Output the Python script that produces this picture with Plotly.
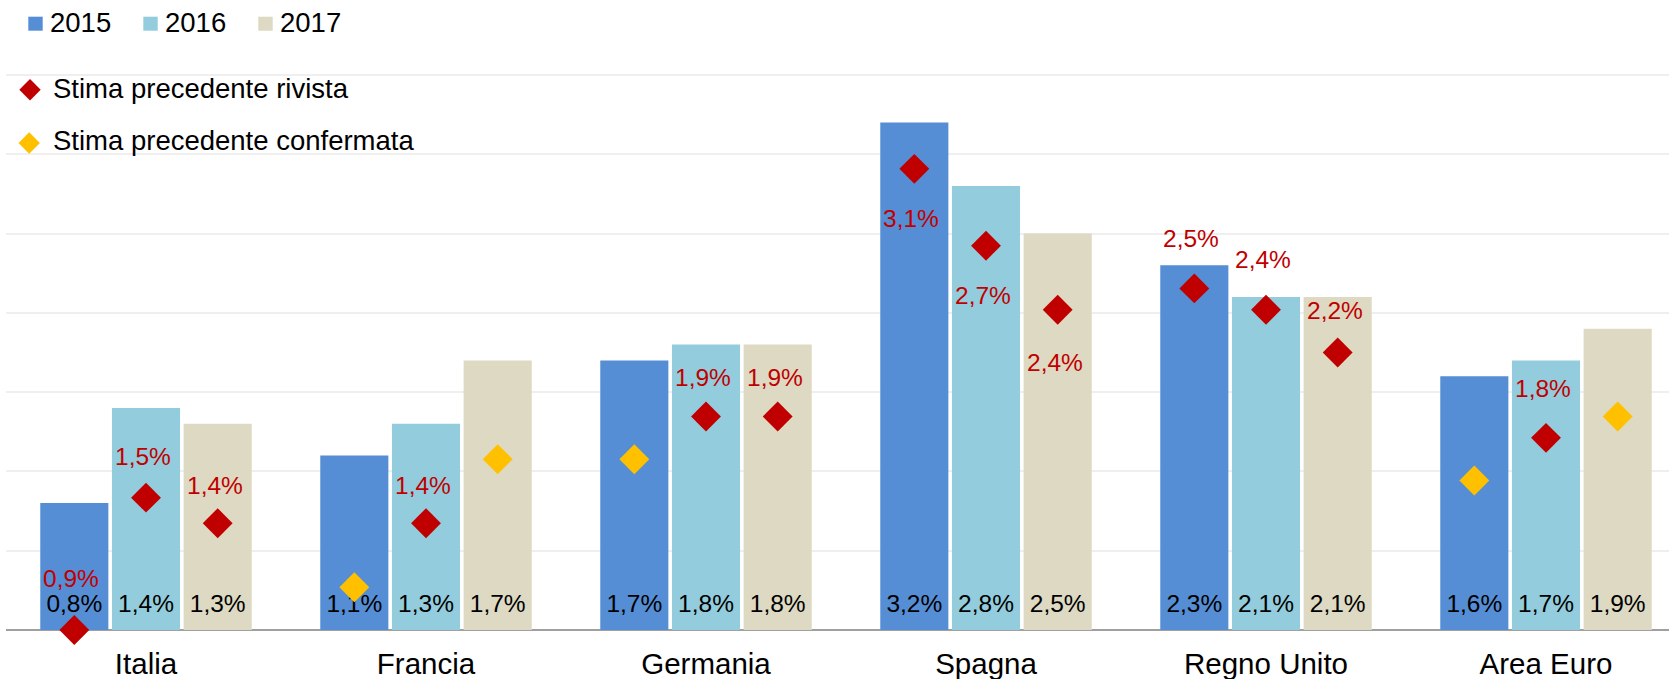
import plotly.graph_objects as go

# ---------------- data ----------------
categories = ["Italia", "Francia", "Germania", "Spagna", "Regno Unito", "Area Euro"]
years = ["2015", "2016", "2017"]

growth_2015 = [0.8, 1.1, 1.7, 3.2, 2.3, 1.6]
growth_2016 = [1.4, 1.3, 1.8, 2.8, 2.1, 1.7]
growth_2017 = [1.3, 1.7, 1.8, 2.5, 2.1, 1.9]

# previous estimates (diamonds, secondary axis)
prev_2015 = [0.9, 1.1, 1.7, 3.06, 2.5, 1.6]
prev_2016 = [1.52, 1.4, 1.9, 2.7, 2.4, 1.8]
prev_2017 = [1.4, 1.7, 1.9, 2.4, 2.2, 1.9]

# True = previous estimate confirmed (yellow), False = revised (red)
confirmed_2015 = [False, True, True, False, False, True]
confirmed_2016 = [False, False, False, False, False, False]
confirmed_2017 = [False, True, False, False, False, True]

legend_labels = ["Stima precedente rivista", "Stima precedente confermata"]

# ---------------- style / layout ----------------
W, H = 1669, 679
ML, MR, MT, MB = 6, 0, 0, 49
PLOT_W = W - ML - MR
PLOT_H = H - MT - MB
PX_PER_CAT = 280.0
PX_PER_UNIT = 158.6
Y1_MAX = PLOT_H / PX_PER_UNIT
Y2_MIN = 0.9
Y2_MAX = Y2_MIN + Y1_MAX * (2.6 / 3.5)
X_MIN = -0.5
X_MAX = X_MIN + PLOT_W / PX_PER_CAT

BARGAP = 0.232
BARGROUPGAP = 0.05
SLOT = (1 - BARGAP) / 3
OFFSETS = [-SLOT, 0.0, SLOT]

FONT = "Liberation Sans, Arial, sans-serif"
BAR_COLORS = ["#558ED5", "#93CDDD", "#DDD9C3"]
RED = "#C00000"
YELLOW = "#FFC000"
LABEL_Y = 0.151  # row of black value labels (primary axis units)
VAL_FONT = 24.5
LEG_FONT = 27.5
CAT_FONT = 29.5

# vertical offsets (px) of red labels from their diamond, per year
RED_SHIFT = [
    [52, 0, 0, -50, 50, 0],
    [41, 38, 39, -50, 50, 49],
    [38, 0, 39, -53, 42, 0],
]

growth = [growth_2015, growth_2016, growth_2017]
prev = [prev_2015, prev_2016, prev_2017]
confirmed = [confirmed_2015, confirmed_2016, confirmed_2017]


def fmt(v):
    return f"{v:.1f}".replace(".", ",") + "%"


fig = go.Figure()
xs = list(range(len(categories)))

# bars
for k, yr in enumerate(years):
    fig.add_trace(go.Bar(
        x=xs, y=growth[k], name=yr,
        marker=dict(color=BAR_COLORS[k], line=dict(width=0)),
        showlegend=False, hoverinfo="skip",
    ))

# black value labels at bottom of bars
lab_x, lab_t = [], []
for k in range(3):
    for i in xs:
        lab_x.append(i + OFFSETS[k])
        lab_t.append(fmt(growth[k][i]))
fig.add_trace(go.Scatter(
    x=lab_x, y=[LABEL_Y] * len(lab_x), mode="text", text=lab_t,
    textposition="middle center",
    textfont=dict(family=FONT, size=VAL_FONT, color="#000000"),
    showlegend=False, hoverinfo="skip", cliponaxis=False,
))

# diamonds on secondary axis
dx, dy, dc = [], [], []
annotations = []
for k in range(3):
    for i in xs:
        x = i + OFFSETS[k]
        dx.append(x)
        dy.append(prev[k][i])
        dc.append(YELLOW if confirmed[k][i] else RED)
        if not confirmed[k][i]:
            annotations.append(dict(
                x=x, y=prev[k][i], xref="x", yref="y2",
                text=fmt(prev[k][i]), showarrow=False,
                xshift=-3, yshift=RED_SHIFT[k][i],
                font=dict(family=FONT, size=VAL_FONT, color=RED),
                xanchor="center", yanchor="middle",
            ))
fig.add_trace(go.Scatter(
    x=dx, y=dy, yaxis="y2", mode="markers",
    marker=dict(symbol="diamond", size=23, color=dc, line=dict(width=0)),
    showlegend=False, hoverinfo="skip", cliponaxis=False,
))


# ---------------- custom legend ----------------
def px_x(p):
    return (p - ML) / PLOT_W


def px_y(p):
    return (H - MB - p) / PLOT_H


shapes = []
sq_left = [28.3, 143.3, 258.3]
txt_left = [48.0, 163.0, 278.0]
for k, yr in enumerate(years):
    shapes.append(dict(
        type="rect", xref="paper", yref="paper",
        x0=px_x(sq_left[k]), x1=px_x(sq_left[k] + 14.4),
        y0=px_y(30.7), y1=px_y(16.7),
        fillcolor=BAR_COLORS[k], line=dict(width=0),
    ))
    annotations.append(dict(
        x=px_x(txt_left[k]), y=px_y(22.5), xref="paper", yref="paper",
        text=yr, showarrow=False, xanchor="left", yanchor="middle",
        font=dict(family=FONT, size=LEG_FONT, color="#000000"),
    ))

diam_centers = [(30.0, 89.7), (29.2, 143.0)]
diam_colors = [RED, YELLOW]
diam_text_y = [88.5, 140.5]
for j in range(2):
    cx, cy = diam_centers[j]
    hw = 10.7
    path = (f"M {px_x(cx - hw)},{px_y(cy)} L {px_x(cx)},{px_y(cy - hw)} "
            f"L {px_x(cx + hw)},{px_y(cy)} L {px_x(cx)},{px_y(cy + hw)} Z")
    shapes.append(dict(type="path", xref="paper", yref="paper", path=path,
                       fillcolor=diam_colors[j], line=dict(width=0)))
    annotations.append(dict(
        x=px_x(50.5), y=px_y(diam_text_y[j]), xref="paper", yref="paper",
        text=legend_labels[j], showarrow=False, xanchor="left", yanchor="middle",
        font=dict(family=FONT, size=LEG_FONT, color="#000000"),
    ))

fig.update_layout(
    width=W, height=H,
    margin=dict(l=ML, r=MR, t=MT, b=MB, pad=0),
    paper_bgcolor="#FFFFFF", plot_bgcolor="#FFFFFF",
    barmode="group", bargap=BARGAP, bargroupgap=BARGROUPGAP,
    font=dict(family=FONT, color="#000000"),
    showlegend=False,
    xaxis=dict(
        range=[X_MIN, X_MAX], tickmode="array", tickvals=xs, ticktext=categories,
        tickfont=dict(family=FONT, size=CAT_FONT, color="#000000"),
        showgrid=False, zeroline=False, showline=False,
        ticks="", ticklabelstandoff=13, fixedrange=True,
    ),
    yaxis=dict(
        range=[0, Y1_MAX], dtick=0.5, tick0=0,
        showgrid=True, gridcolor="#EFEFEF", gridwidth=1.5,
        zeroline=True, zerolinecolor="#A0A0A0", zerolinewidth=2,
        showticklabels=False, ticks="", showline=False, fixedrange=True,
    ),
    yaxis2=dict(
        range=[Y2_MIN, Y2_MAX], overlaying="y", side="right",
        showgrid=False, zeroline=False, showticklabels=False,
        ticks="", showline=False, fixedrange=True,
    ),
    shapes=shapes,
    annotations=annotations,
)

fig.write_html("out.html")
